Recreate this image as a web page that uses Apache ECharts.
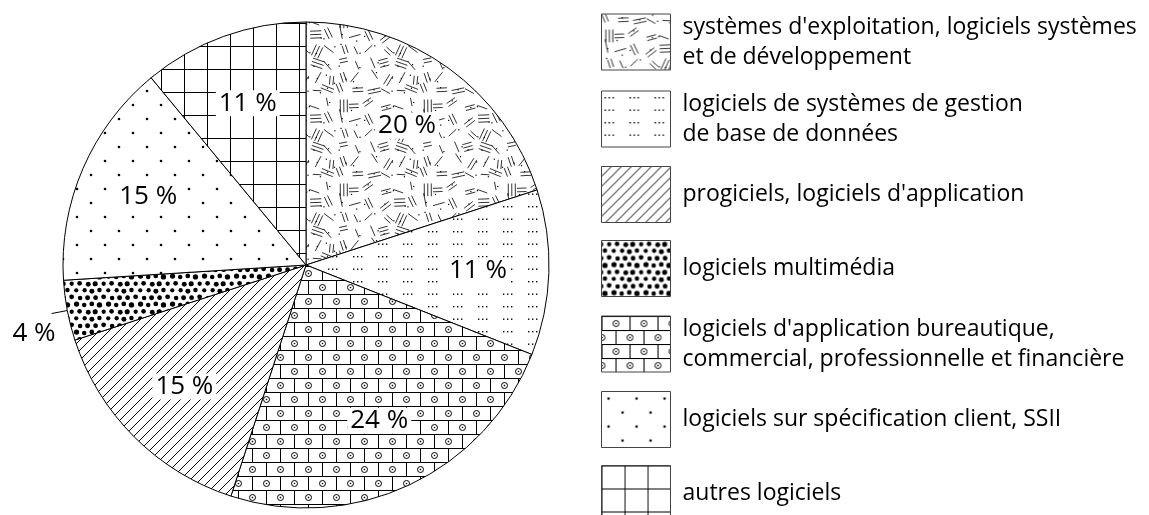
<!DOCTYPE html>
<html>
<head>
<meta charset="utf-8">
<script src="https://cdn.jsdelivr.net/npm/echarts@6/dist/echarts.min.js"></script>
<style>
  html, body { margin: 0; padding: 0; background: #fff; }
  #chart { width: 1149px; height: 515px; }
</style>
</head>
<body>
<div id="chart"></div>
<script>
// legend order
const categories = [
  "systèmes d'exploitation, logiciels systèmes et de développement",
  'logiciels de systèmes de gestion de base de données',
  "progiciels, logiciels d'application",
  'logiciels multimédia',
  "logiciels d'application bureautique, commercial, professionnelle et financière",
  'logiciels sur spécification client, SSII',
  'autres logiciels'
];
const legendText = [
  "systèmes d'exploitation, logiciels systèmes\net de développement",
  'logiciels de systèmes de gestion\nde base de données',
  "progiciels, logiciels d'application",
  'logiciels multimédia',
  "logiciels d'application bureautique,\ncommercial, professionnelle et financière",
  'logiciels sur spécification client, SSII',
  'autres logiciels'
];
const shares = [20, 11, 15, 4, 24, 15, 11]; // %
// clockwise from 12 o'clock
const pieOrder = [0, 1, 4, 2, 3, 5, 6];

const FONT = "'Open Sans', sans-serif";

// ---- hatch patterns drawn on small canvases ----
function tile(w, h, draw) {
  const c = document.createElement('canvas');
  c.width = w;
  c.height = h;
  const g = c.getContext('2d');
  g.fillStyle = '#fff';
  g.fillRect(0, 0, w, h);
  g.strokeStyle = '#000';
  g.fillStyle = '#000';
  g.lineWidth = 1;
  draw(g, w, h);
  return { image: c, repeat: 'repeat' };
}

function dot(g, x, y, r) {
  g.beginPath();
  g.arc(x, y, r, 0, Math.PI * 2);
  g.fill();
}

// tiny deterministic generator, only used for texture jitter
function seeded(seed) {
  let s = seed;
  return () => { s = (s * 16807) % 2147483647; return s / 2147483647; };
}

const patterns = [
  // scattered short strokes
  tile(84, 84, (g, w, h) => {
    const rnd = seeded(23);
    const marks = [];
    for (let i = 0; i < 6; i++) {
      for (let j = 0; j < 6; j++) {
        const cx = i * 14 + 7 + (rnd() - 0.5) * 7;
        const cy = j * 14 + 7 + (rnd() - 0.5) * 7;
        const a = rnd() * Math.PI;
        const r = rnd();
        const n = r < 0.4 ? 1 : r < 0.8 ? 2 : 3;
        const len = 8 + rnd() * 5;
        marks.push({ cx, cy, a, n, len, dx: (rnd() - 0.5) * 12, dy: (rnd() - 0.5) * 12 });
      }
    }
    g.lineWidth = 0.8;
    for (let ox = -w; ox <= w; ox += w) {
      for (let oy = -h; oy <= h; oy += h) {
        marks.forEach(m => {
          const ux = Math.cos(m.a), uy = Math.sin(m.a);
          for (let k = 0; k < m.n; k++) {
            const off = (k - (m.n - 1) / 2) * 3.5;
            const x = m.cx + ox - uy * off, y = m.cy + oy + ux * off;
            g.beginPath();
            g.moveTo(x - ux * m.len / 2, y - uy * m.len / 2);
            g.lineTo(x + ux * m.len / 2, y + uy * m.len / 2);
            g.stroke();
          }
          g.fillRect(m.cx + ox + m.dx, m.cy + oy + m.dy, 1.2, 1.2);
        });
      }
    }
  }),
  // dotted rows "... ... ..."
  tile(25, 25, (g) => {
    [6, 18.5].forEach(y => {
      [3, 7, 11].forEach(x => g.fillRect(x, y, 1.4, 1.4));
    });
  }),
  // diagonal hatch
  tile(10, 10, (g, w, h) => {
    g.beginPath();
    for (let k = -1; k <= 1; k++) {
      g.moveTo(k * w, h);
      g.lineTo(k * w + w, 0);
    }
    g.stroke();
  }),
  // dense black dots, slightly irregular
  tile(32, 28, (g, w, h) => {
    const rnd = seeded(5);
    const pts = [];
    for (let r = 0; r < 4; r++) {
      for (let c = 0; c < 4; c++) {
        pts.push([c * 8 + (r % 2) * 4 + (rnd() - 0.5) * 1.6, r * 7 + 3.5 + (rnd() - 0.5) * 1.6, 2.1 + rnd() * 0.6]);
      }
    }
    for (let ox = -w; ox <= w; ox += w) {
      for (let oy = -h; oy <= h; oy += h) {
        pts.forEach(p => dot(g, p[0] + ox, p[1] + oy, p[2]));
      }
    }
  }),
  // bricks with small rings
  tile(28, 28, (g) => {
    g.beginPath();
    g.moveTo(0, 0.5); g.lineTo(28, 0.5);
    g.moveTo(0, 14.5); g.lineTo(28, 14.5);
    g.moveTo(0.5, 0); g.lineTo(0.5, 14);
    g.moveTo(14.5, 14); g.lineTo(14.5, 28);
    g.stroke();
    [[14.5, 7.5], [0.5, 21.5], [28.5, 21.5]].forEach(p => {
      g.beginPath();
      g.arc(p[0], p[1], 3, 0, Math.PI * 2);
      g.stroke();
      dot(g, p[0], p[1], 0.8);
    });
  }),
  // sparse dots
  tile(28, 28, (g) => {
    dot(g, 7, 7, 1.3);
    dot(g, 21, 21, 1.3);
  }),
  // square grid
  tile(23, 23, (g) => {
    g.beginPath();
    g.moveTo(0, 0.5); g.lineTo(23, 0.5);
    g.moveTo(0.5, 0); g.lineTo(0.5, 23);
    g.stroke();
  })
];

const pieData = pieOrder.map(i => ({
  name: categories[i],
  value: shares[i],
  itemStyle: { color: patterns[i] }
}));

const labelData = pieOrder.map(i => {
  const item = { name: categories[i], value: shares[i] };
  if (shares[i] < 5) {
    item.label = { position: 'outside', backgroundColor: 'transparent' };
    item.labelLine = { show: true, length: 16, length2: 0, lineStyle: { color: '#000', width: 1 } };
  }
  return item;
});

const chart = echarts.init(document.getElementById('chart'));

chart.setOption({
  animation: false,
  backgroundColor: '#fff',
  legend: {
    orient: 'vertical',
    left: 601,
    top: 12,
    height: 700,
    padding: 0,
    itemWidth: 69,
    itemHeight: 56,
    itemGap: 17,
    icon: 'rect',
    selectedMode: false,
    data: categories,
    formatter: name => legendText[categories.indexOf(name)],
    itemStyle: { borderColor: '#444', borderWidth: 1 },
    textStyle: {
      fontFamily: FONT,
      fontSize: 23,
      lineHeight: 30,
      color: '#000',
      padding: [0, 0, 0, 7]
    }
  },
  series: [
    {
      type: 'pie',
      center: [306, 265],
      radius: 243,
      startAngle: 90,
      clockwise: true,
      avoidLabelOverlap: false,
      emphasis: { disabled: true },
      label: { show: false },
      labelLine: { show: false },
      itemStyle: { borderColor: '#000', borderWidth: 1 },
      data: pieData
    },
    {
      // invisible ring just to place the percentage labels at ~0.7 r
      type: 'pie',
      center: [306, 265],
      radius: [95, 243],
      startAngle: 90,
      clockwise: true,
      silent: true,
      avoidLabelOverlap: false,
      emphasis: { disabled: true },
      itemStyle: { color: 'rgba(0,0,0,0)', borderWidth: 0 },
      label: {
        show: true,
        position: 'inside',
        formatter: p => p.value + ' %',
        fontFamily: FONT,
        fontSize: 26,
        color: '#000',
        backgroundColor: '#fff',
        padding: [0, 3]
      },
      labelLine: { show: false },
      labelLayout: p => (shares[pieOrder[p.dataIndex]] < 5 ? { dx: 12, dy: 20 } : {}),
      data: labelData
    }
  ]
});

window.addEventListener('resize', () => {
  chart.resize();
});
</script>
</body>
</html>
